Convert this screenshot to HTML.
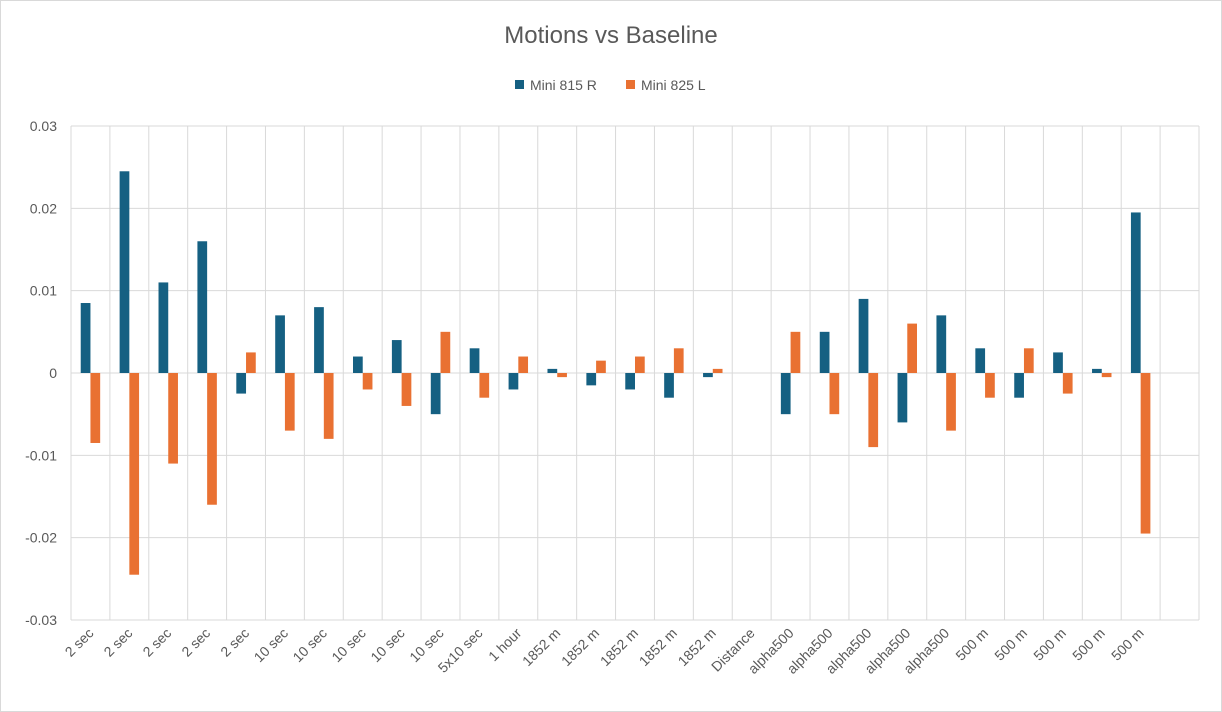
<!DOCTYPE html>
<html><head><meta charset="utf-8"><style>
body{margin:0;background:#fff;}
svg{display:block;font-family:"Liberation Sans",sans-serif;}
</style></head><body>
<svg id="chart" width="1222" height="712">
<rect x="0.5" y="0.5" width="1221" height="711" fill="#fff" stroke="#d9d9d9"/>
<text x="611" y="43" text-anchor="middle" font-size="24" fill="#595959">Motions vs Baseline</text>
<g>
<rect x="515" y="80" width="9" height="9" fill="#156082"/>
<text x="530" y="90" font-size="14" fill="#595959">Mini 815 R</text>
<rect x="626" y="80" width="9" height="9" fill="#E97132"/>
<text x="641" y="90" font-size="14" fill="#595959">Mini 825 L</text>
</g>
<g id="grid"></g><g id="bars"></g><g id="labels"></g>
</svg>
<script>
const categories=["2 sec","2 sec","2 sec","2 sec","2 sec","10 sec","10 sec","10 sec","10 sec","10 sec","5x10 sec","1 hour","1852 m","1852 m","1852 m","1852 m","1852 m","Distance","alpha500","alpha500","alpha500","alpha500","alpha500","500 m","500 m","500 m","500 m","500 m",""];
const seriesR=[0.0085,0.0245,0.011,0.016,-0.0025,0.007,0.008,0.002,0.004,-0.005,0.003,-0.002,0.0005,-0.0015,-0.002,-0.003,-0.0005,0,-0.005,0.005,0.009,-0.006,0.007,0.003,-0.003,0.0025,0.0005,0.0195,null];
const seriesL=[-0.0085,-0.0245,-0.011,-0.016,0.0025,-0.007,-0.008,-0.002,-0.004,0.005,-0.003,0.002,-0.0005,0.0015,0.002,0.003,0.0005,0,0.005,-0.005,-0.009,0.006,-0.007,-0.003,0.003,-0.0025,-0.0005,-0.0195,null];
const yTicks=[0.03,0.02,0.01,0,-0.01,-0.02,-0.03];
const yTickLabels=["0.03","0.02","0.01","0","-0.01","-0.02","-0.03"];
const L=71,R=1199,T=126,B=620,yMin=-0.03,yMax=0.03;
const ns="http://www.w3.org/2000/svg";
const y=v=>T+(yMax-v)/(yMax-yMin)*(B-T);
const cw=(R-L)/categories.length;
const x=i=>L+i*cw;
const grid=document.getElementById('grid'),bars=document.getElementById('bars'),labels=document.getElementById('labels');
function mk(tag,attrs,parent){const e=document.createElementNS(ns,tag);for(const k in attrs)e.setAttribute(k,attrs[k]);parent.appendChild(e);return e;}
yTicks.forEach((t,i)=>{
 const ln=mk('line',{x1:L,x2:R,y1:y(t),y2:y(t),stroke:'#d9d9d9','stroke-width':1},grid);
 
 
 const tx=mk('text',{x:57,y:y(t)+5,'text-anchor':'end','font-size':14,fill:'#595959'},labels);
 tx.textContent=yTickLabels[i];
 
 
});
for(let i=0;i<=categories.length;i++){
 const ln=mk('line',{x1:x(i),x2:x(i),y1:T,y2:B,stroke:'#d9d9d9','stroke-width':1},grid);
 
 
}
const bw=cw*0.25;
categories.forEach((c,i)=>{
 const cx=x(i)+cw/2;
 [[seriesR,'#156082',cx-bw,'bar-mini-815'],[seriesL,'#E97132',cx,'bar-mini-825']].forEach(([s,col,bx,nm])=>{
  const v=s[i]; if(v===null||v===0)return;
  const r=mk('rect',{x:bx,y:Math.min(y(v),y(0)),width:bw,height:Math.abs(y(v)-y(0)),fill:col},bars);
  
  
 });
 if(c){
  const tx=mk('text',{x:cx+4,y:B+14,'text-anchor':'end','font-size':14,fill:'#595959',transform:`rotate(-45 ${cx+4} ${B+14})`},labels);
  tx.textContent=c;
  
  
 }
});
</script>
</body></html>
